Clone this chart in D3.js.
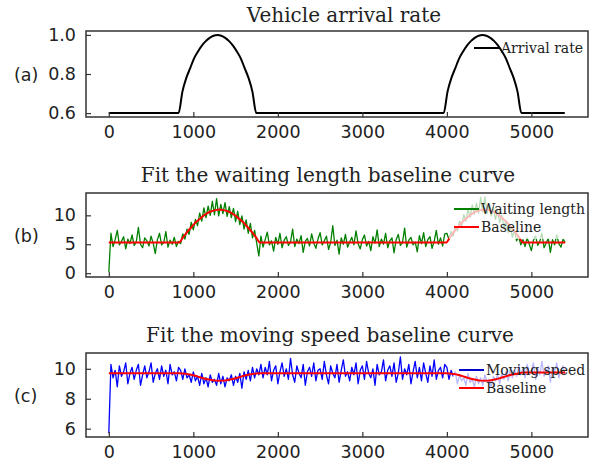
<!DOCTYPE html>
<html>
<head>
<meta charset="utf-8">
<script src="https://cdn.jsdelivr.net/npm/d3@7"></script>
<style>
  body { margin: 0; background: #fff; }
  .tick-label { font-family: "DejaVu Sans", sans-serif; font-size: 17.5px; fill: #222; }
  .title { font-family: "DejaVu Serif", serif; font-size: 20px; fill: #222; }
  .legend-text { font-family: "DejaVu Serif", serif; font-size: 14px; fill: #222; }
</style>
</head>
<body>
<svg id="chart" width="597" height="465"></svg>
<script>
// time axis: one sample every 25 steps, 0 .. 5400
const timeStep = 25;
const xTicks = [0, 1000, 2000, 3000, 4000, 5000];

// (a) arrival rate
const arrivalT = [0, 825, 871, 917, 963, 1009, 1055, 1101, 1147, 1193, 1239, 1285, 1331, 1377, 1423, 1469, 1515, 1561, 1607, 1653, 1699, 1745,
  3962, 4008, 4054, 4100, 4146, 4192, 4238, 4284, 4330, 4376, 4422, 4468, 4514, 4560, 4606, 4652, 4698, 4744, 4790, 4836, 4882, 5395];
const arrivalRate = [0.60, 0.60, 0.71, 0.78, 0.83, 0.88, 0.915, 0.945, 0.968, 0.985, 0.996, 1.00, 0.996, 0.985, 0.968, 0.945, 0.915, 0.88, 0.83, 0.78, 0.71, 0.60,
  0.60, 0.71, 0.78, 0.83, 0.88, 0.915, 0.945, 0.968, 0.985, 0.996, 1.00, 0.996, 0.985, 0.968, 0.945, 0.915, 0.88, 0.83, 0.78, 0.71, 0.60, 0.60];

// baselines (b) and (c) share the same breakpoints
const baselineT = [0, 830, 878, 926, 974, 1022, 1070, 1118, 1166, 1214, 1262, 1310, 1358, 1406, 1454, 1502, 1550, 1598, 1646, 1694, 1742, 1790,
  3990, 4036, 4081, 4127, 4172, 4218, 4263, 4309, 4354, 4400, 4445, 4491, 4536, 4582, 4627, 4673, 4718, 4764, 4809, 4855, 4900, 5400];
const waitingBaseline = [5.3, 5.3, 6.2, 7.1, 7.9, 8.7, 9.3, 9.9, 10.4, 10.7, 10.9, 11.0, 10.9, 10.7, 10.4, 9.9, 9.3, 8.7, 7.9, 7.1, 6.2, 5.3,
  5.3, 6.2, 7.1, 7.9, 8.7, 9.3, 9.9, 10.4, 10.7, 10.9, 11.0, 10.9, 10.7, 10.4, 9.9, 9.3, 8.7, 7.9, 7.1, 6.2, 5.3, 5.3];
const speedBaseline = [9.70, 9.70, 9.69, 9.65, 9.60, 9.53, 9.45, 9.37, 9.30, 9.25, 9.21, 9.20, 9.21, 9.25, 9.30, 9.37, 9.45, 9.53, 9.60, 9.65, 9.69, 9.70,
  9.70, 9.69, 9.65, 9.60, 9.53, 9.45, 9.37, 9.30, 9.25, 9.21, 9.20, 9.21, 9.25, 9.30, 9.37, 9.45, 9.53, 9.60, 9.65, 9.70, 9.75, 9.75];

// (b) waiting length samples
const waitingLength = [
  0.2, 6.9, 4.6, 5.8, 7.4, 4.9, 5.5, 6.3, 4.2, 5.9, 5.1, 6.6, 4.8, 5.4, 7.9, 5.0, 4.4, 6.1, 5.6, 4.7, 6.4, 5.2, 3.4, 5.8, 6.9, 4.9, 5.3, 7.2, 4.5, 5.7, 5.0, 6.2, 4.6, 5.5,
  5.1, 6.8, 5.9, 7.6, 6.7, 8.8, 7.5, 9.3, 8.2, 10.4, 9.0, 11.3, 9.6, 11.6, 10.0, 12.4, 10.1, 12.9, 9.9, 11.9, 10.3, 12.2, 9.8, 11.5, 9.6, 11.2, 8.9, 10.7, 8.4, 9.9, 7.6, 9.2, 6.9, 8.6, 6.1, 7.4, 5.2, 3.0,
  6.4, 4.5, 5.8, 7.1, 4.9, 5.6, 3.8, 6.2, 5.0, 6.9, 4.4, 5.7, 6.3, 4.8, 5.4, 7.6, 4.6, 5.9, 5.1, 6.5,
  3.6, 5.5, 6.0, 4.7, 6.8, 5.2, 4.3, 5.9, 7.0, 4.9, 5.6, 6.4, 4.1, 5.3, 8.2, 4.8, 5.7, 3.3, 6.1, 5.0,
  6.7, 4.5, 5.4, 6.2, 4.9, 7.3, 5.1, 4.2, 5.8, 6.6, 4.7, 5.5, 3.9, 6.3, 5.2, 7.5, 4.6, 5.9, 5.0, 6.9,
  4.4, 5.6, 6.1, 3.5, 5.8, 6.7, 4.8, 5.3, 7.8, 4.5, 5.7, 6.2, 4.9, 5.4, 3.7, 6.5, 5.1, 7.0, 4.6, 5.8,
  6.3, 4.3, 5.5, 7.4, 5.0, 6.1, 4.7, 6.8,
  6.9, 5.8, 7.2, 6.4, 8.1, 7.3, 9.0, 8.2, 10.1, 9.0, 11.0, 9.7, 11.8, 10.2, 12.1, 10.4, 13.1, 10.6, 13.2, 10.3, 12.0, 9.9, 11.4, 9.3, 10.8, 8.7, 10.0, 7.9, 9.1, 7.0, 8.3, 6.2, 7.4, 5.6, 6.3, 4.9, 5.8,
  4.6, 6.1, 5.0, 3.9, 5.7, 6.4, 4.8, 5.5, 6.9, 4.4, 5.2, 6.0, 3.6, 5.8, 4.9, 6.6, 5.1, 4.5, 5.9, 5.3
];

// (c) moving speed samples
const movingSpeed = [
  5.7, 10.3, 9.4, 9.9, 8.8, 10.2, 9.5, 9.8, 10.4, 9.0, 9.7, 10.1, 9.3, 9.9, 10.3, 8.9, 9.6, 10.2, 9.4, 9.8, 10.4, 9.1, 9.7, 10.0, 9.3, 10.2, 9.5, 9.9, 9.0, 10.3, 9.6, 9.8, 9.2, 10.1,
  9.9, 9.3, 10.0, 9.4, 9.6, 9.1, 9.8, 9.2, 9.5, 8.9, 9.7, 9.0, 9.4, 8.8, 9.6, 9.1, 9.3, 8.9, 9.7, 9.0, 9.5, 8.8, 9.4, 9.2, 9.6, 8.9, 9.5, 9.1, 9.7, 8.7, 9.8, 9.3, 9.9, 9.2, 10.1, 9.4, 10.0, 9.6,
  10.3, 9.4, 10.1, 9.6, 10.5, 9.2, 9.9, 10.2, 9.0, 9.8, 10.4, 9.5, 10.0, 9.3, 10.7, 9.6, 9.1, 10.2, 9.7, 9.4,
  10.3, 8.9, 9.8, 10.1, 9.5, 10.4, 9.2, 9.9, 10.0, 9.3, 10.5, 9.6, 9.0, 10.2, 9.7, 9.4, 10.3, 9.1, 9.9, 10.6,
  9.5, 9.8, 9.2, 10.1, 9.6, 10.4, 9.0, 9.9, 10.2, 9.3, 10.5, 9.7, 9.4, 10.0, 8.9, 10.3, 9.6, 9.8, 10.6, 9.2,
  9.9, 10.2, 9.5, 10.4, 9.1, 9.7, 10.8, 9.3, 10.0, 9.6, 10.3, 9.0, 9.8, 10.5, 9.4, 10.1, 9.2, 10.4, 9.7, 9.1,
  10.2, 9.5, 10.6, 9.3, 9.9, 10.1, 9.4, 10.3,
  10.1, 9.3, 9.9, 9.5, 9.8, 9.0, 9.6, 9.2, 9.4, 8.9, 9.7, 9.1, 9.3, 8.8, 9.5, 9.0, 9.4, 8.9, 9.6, 9.1, 9.3, 8.8, 9.5, 9.2, 9.6, 9.0, 9.7, 9.3, 9.8, 9.2, 10.0, 9.4, 9.9, 9.5, 10.2, 9.6, 10.0,
  9.4, 10.3, 9.7, 9.9, 10.4, 9.3, 10.0, 9.6, 10.5, 9.5, 9.8, 10.2, 9.1, 10.1, 9.7, 10.4, 9.4, 9.9, 10.2, 9.6
];

const svg = d3.select("#chart");
const plotLeft = 86, plotRight = 588;
const frameColor = "#333";

const x = d3.scaleLinear().domain([-270, 5670]).range([plotLeft, plotRight]);

function drawPanel(p) {
    const y = d3.scaleLinear().domain(p.yDomain).range([p.bottom, p.top]);
    const g = svg.append("g");

    g.append("clipPath").attr("id", "clip-" + p.id)
        .append("rect")
        .attr("x", plotLeft).attr("y", p.top)
        .attr("width", plotRight - plotLeft).attr("height", p.bottom - p.top);

    const plot = g.append("g").attr("clip-path", `url(#clip-${p.id})`);

    p.series.forEach(s => {
        const line = d3.line().x(d => x(d[0])).y(d => y(d[1]))
            .curve(s.smooth ? d3.curveMonotoneX : d3.curveLinear);
        plot.append("path")
            .datum(s.points)
            .attr("class", s.overLegend ? "over" : "under")
            .attr("fill", "none")
            .attr("stroke", s.color)
            .attr("stroke-width", s.width)
            .attr("stroke-linejoin", "round")
            .attr("d", line);
    });

    // legend box fades the data behind it
    if (p.legendBox) {
        const b = p.legendBox;
        plot.append("rect")
            .attr("x", b[0]).attr("y", b[1]).attr("width", b[2]).attr("height", b[3])
            .attr("fill", "#fff").attr("opacity", 0.72);
    }
    plot.selectAll("path.over").raise();

    // frame
    g.append("rect")
        .attr("x", plotLeft).attr("y", p.top)
        .attr("width", plotRight - plotLeft).attr("height", p.bottom - p.top)
        .attr("fill", "none").attr("stroke", frameColor).attr("stroke-width", 1.5);

    // x axis, ticks pointing inward
    const xAxis = g.append("g")
        .attr("transform", `translate(0,${p.bottom})`)
        .call(d3.axisBottom(x).tickValues(xTicks).tickFormat(d3.format("d"))
            .tickSizeInner(-5).tickSizeOuter(0).tickPadding(9));
    xAxis.select(".domain").remove();
    xAxis.selectAll("line").attr("stroke", frameColor).attr("stroke-width", 1.2);
    xAxis.selectAll("text").attr("class", "tick-label").attr("fill", null);
    xAxis.attr("font-family", null).attr("font-size", null);

    const yAxis = g.append("g")
        .attr("transform", `translate(${plotLeft},0)`)
        .call(d3.axisLeft(y).tickValues(p.yTicks).tickFormat(p.yFormat)
            .tickSizeInner(-5).tickSizeOuter(0).tickPadding(10));
    yAxis.select(".domain").remove();
    yAxis.selectAll("line").attr("stroke", frameColor).attr("stroke-width", 1.2);
    yAxis.selectAll("text").attr("class", "tick-label").attr("fill", null);
    yAxis.attr("font-family", null).attr("font-size", null);

    // title and panel letter
    svg.append("text").attr("class", "title")
        .attr("x", p.titleX).attr("y", p.titleY)
        .attr("text-anchor", "middle")
        .text(p.title);

    svg.append("text").attr("class", "tick-label")
        .attr("x", 14).attr("y", (p.top + p.bottom) / 2 + 7)
        .text(p.letter);

    // legend entries
    p.legend.forEach((item, i) => {
        const ly = p.legendY + i * p.legendGap;
        svg.append("line")
            .attr("x1", p.legendX).attr("x2", p.legendX + 25)
            .attr("y1", ly).attr("y2", ly)
            .attr("stroke", item.color).attr("stroke-width", 2);
        svg.append("text").attr("class", "legend-text")
            .attr("x", p.legendX + 27).attr("y", ly + 5)
            .text(item.label);
    });
}

const toPairs = (ts, vs) => ts.map((t, i) => [t, vs[i]]);
const sampled = vs => vs.map((v, i) => [i * timeStep, v]);

drawPanel({
    id: "a", top: 31, bottom: 117,
    yDomain: [0.58, 1.02], yTicks: [0.6, 0.8, 1.0], yFormat: d3.format(".1f"),
    title: "Vehicle arrival rate", titleX: 344, titleY: 22, letter: "(a)",
    series: [{ points: toPairs(arrivalT, arrivalRate), color: "#000", width: 2, smooth: true }],
    legendX: 474, legendY: 48, legendGap: 18,
    legend: [{ label: "Arrival rate", color: "#000" }]
});

drawPanel({
    id: "b", top: 193, bottom: 277,
    yDomain: [-0.66, 13.86], yTicks: [0, 5, 10], yFormat: d3.format("d"),
    title: "Fit the waiting length baseline curve", titleX: 328, titleY: 182, letter: "(b)",
    series: [
        { points: sampled(waitingLength), color: "#008000", width: 1.3 },
        { points: toPairs(baselineT, waitingBaseline), color: "#ff0000", width: 2, smooth: true }
    ],
    legendBox: [449, 195, 132, 44],
    legendX: 454, legendY: 209, legendGap: 18,
    legend: [{ label: "Waiting length", color: "#008000" }, { label: "Baseline", color: "#ff0000" }]
});

drawPanel({
    id: "c", top: 353, bottom: 437,
    yDomain: [5.445, 11.055], yTicks: [6, 8, 10], yFormat: d3.format("d"),
    title: "Fit the moving speed baseline curve", titleX: 330, titleY: 342, letter: "(c)",
    series: [
        { points: sampled(movingSpeed), color: "#0000ff", width: 1.3 },
        { points: toPairs(baselineT, speedBaseline), color: "#ff0000", width: 2, overLegend: true, smooth: true }
    ],
    legendBox: [453, 356, 130, 40],
    legendX: 459, legendY: 370, legendGap: 18,
    legend: [{ label: "Moving speed", color: "#0000cc" }, { label: "Baseline", color: "#ff0000" }]
});
</script>
</body>
</html>
